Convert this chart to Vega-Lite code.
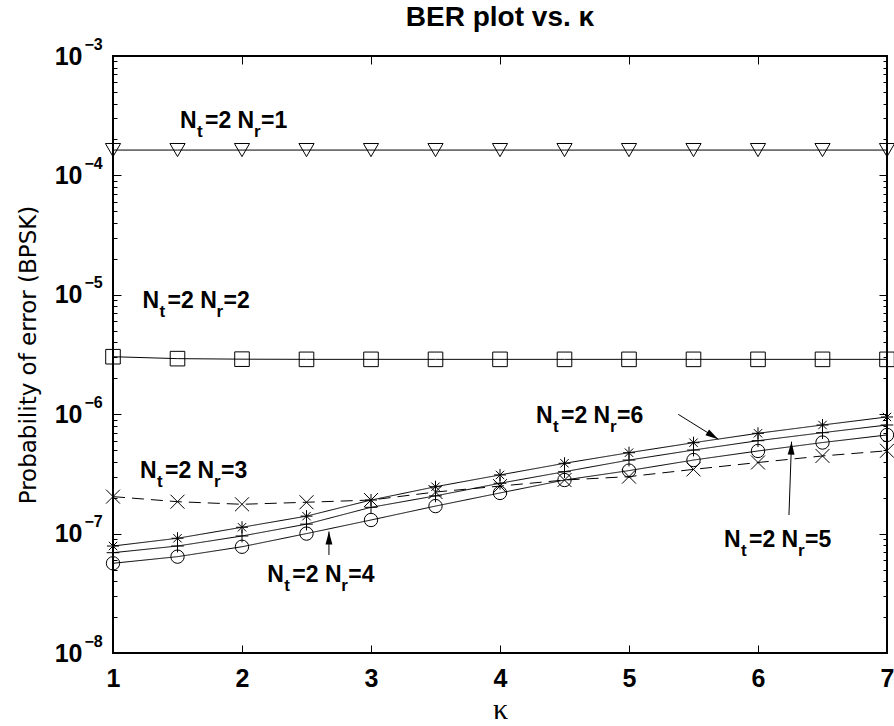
{
  "$schema": "https://vega.github.io/schema/vega-lite/v6.json",
  "width": 774,
  "height": 597,
  "autosize": {"type": "none"},
  "padding": {"left": 113, "top": 56, "right": 7, "bottom": 73},
  "background": "white",
  "config": {
    "font": "Liberation Sans",
    "view": {"stroke": "black", "strokeWidth": 2},
    "axis": {"domain": false, "grid": false, "labelColor": "black", "tickColor": "black", "titleColor": "black", "labelFlush": false, "labelOverlap": false, "tickWidth": 1}
  },
  "title": {"text": "BER plot vs. κ", "font": "Liberation Sans", "fontSize": 28, "fontWeight": "bold", "color": "black", "anchor": "middle", "offset": 4},
  "datasets": {
    "ber": [
      {"nr": "1", "k": 1, "ber": 1.63e-4}, {"nr": "1", "k": 1.5, "ber": 1.63e-4}, {"nr": "1", "k": 2, "ber": 1.63e-4}, {"nr": "1", "k": 2.5, "ber": 1.63e-4}, {"nr": "1", "k": 3, "ber": 1.63e-4}, {"nr": "1", "k": 3.5, "ber": 1.63e-4}, {"nr": "1", "k": 4, "ber": 1.63e-4}, {"nr": "1", "k": 4.5, "ber": 1.63e-4}, {"nr": "1", "k": 5, "ber": 1.63e-4}, {"nr": "1", "k": 5.5, "ber": 1.63e-4}, {"nr": "1", "k": 6, "ber": 1.63e-4}, {"nr": "1", "k": 6.5, "ber": 1.63e-4}, {"nr": "1", "k": 7, "ber": 1.63e-4},
      {"nr": "2", "k": 1, "ber": 3.03e-6}, {"nr": "2", "k": 1.5, "ber": 2.92e-6}, {"nr": "2", "k": 2, "ber": 2.89e-6}, {"nr": "2", "k": 2.5, "ber": 2.88e-6}, {"nr": "2", "k": 3, "ber": 2.88e-6}, {"nr": "2", "k": 3.5, "ber": 2.88e-6}, {"nr": "2", "k": 4, "ber": 2.88e-6}, {"nr": "2", "k": 4.5, "ber": 2.88e-6}, {"nr": "2", "k": 5, "ber": 2.88e-6}, {"nr": "2", "k": 5.5, "ber": 2.88e-6}, {"nr": "2", "k": 6, "ber": 2.88e-6}, {"nr": "2", "k": 6.5, "ber": 2.88e-6}, {"nr": "2", "k": 7, "ber": 2.88e-6},
      {"nr": "3", "k": 1, "ber": 2.04e-7}, {"nr": "3", "k": 1.5, "ber": 1.85e-7}, {"nr": "3", "k": 2, "ber": 1.76e-7}, {"nr": "3", "k": 2.5, "ber": 1.83e-7}, {"nr": "3", "k": 3, "ber": 1.91e-7}, {"nr": "3", "k": 3.5, "ber": 2.23e-7}, {"nr": "3", "k": 4, "ber": 2.50e-7}, {"nr": "3", "k": 4.5, "ber": 2.81e-7}, {"nr": "3", "k": 5, "ber": 3.00e-7}, {"nr": "3", "k": 5.5, "ber": 3.45e-7}, {"nr": "3", "k": 6, "ber": 3.94e-7}, {"nr": "3", "k": 6.5, "ber": 4.47e-7}, {"nr": "3", "k": 7, "ber": 4.94e-7},
      {"nr": "4", "k": 1, "ber": 5.64e-8}, {"nr": "4", "k": 1.5, "ber": 6.41e-8}, {"nr": "4", "k": 2, "ber": 7.76e-8}, {"nr": "4", "k": 2.5, "ber": 1.00e-7}, {"nr": "4", "k": 3, "ber": 1.30e-7}, {"nr": "4", "k": 3.5, "ber": 1.70e-7}, {"nr": "4", "k": 4, "ber": 2.19e-7}, {"nr": "4", "k": 4.5, "ber": 2.81e-7}, {"nr": "4", "k": 5, "ber": 3.37e-7}, {"nr": "4", "k": 5.5, "ber": 4.13e-7}, {"nr": "4", "k": 6, "ber": 4.92e-7}, {"nr": "4", "k": 6.5, "ber": 5.79e-7}, {"nr": "4", "k": 7, "ber": 6.70e-7},
      {"nr": "5", "k": 1, "ber": 6.92e-8}, {"nr": "5", "k": 1.5, "ber": 7.87e-8}, {"nr": "5", "k": 2, "ber": 9.55e-8}, {"nr": "5", "k": 2.5, "ber": 1.20e-7}, {"nr": "5", "k": 3, "ber": 1.66e-7}, {"nr": "5", "k": 3.5, "ber": 2.07e-7}, {"nr": "5", "k": 4, "ber": 2.64e-7}, {"nr": "5", "k": 4.5, "ber": 3.30e-7}, {"nr": "5", "k": 5, "ber": 4.13e-7}, {"nr": "5", "k": 5.5, "ber": 5.01e-7}, {"nr": "5", "k": 6, "ber": 6.00e-7}, {"nr": "5", "k": 6.5, "ber": 7.00e-7}, {"nr": "5", "k": 7, "ber": 8.12e-7},
      {"nr": "6", "k": 1, "ber": 7.87e-8}, {"nr": "6", "k": 1.5, "ber": 9.14e-8}, {"nr": "6", "k": 2, "ber": 1.13e-7}, {"nr": "6", "k": 2.5, "ber": 1.40e-7}, {"nr": "6", "k": 3, "ber": 1.91e-7}, {"nr": "6", "k": 3.5, "ber": 2.47e-7}, {"nr": "6", "k": 4, "ber": 3.10e-7}, {"nr": "6", "k": 4.5, "ber": 3.88e-7}, {"nr": "6", "k": 5, "ber": 4.76e-7}, {"nr": "6", "k": 5.5, "ber": 5.77e-7}, {"nr": "6", "k": 6, "ber": 6.92e-7}, {"nr": "6", "k": 6.5, "ber": 8.12e-7}, {"nr": "6", "k": 7, "ber": 9.48e-7}
    ],
    "labels": [
      {"nr": "1", "k": 1.519, "ber": 2.49e-4, "tail": "=1"},
      {"nr": "2", "k": 1.229, "ber": 7.74e-6, "tail": "=2"},
      {"nr": "3", "k": 1.209, "ber": 2.92e-7, "tail": "=3"},
      {"nr": "4", "k": 2.196, "ber": 3.95e-8, "tail": "=4"},
      {"nr": "5", "k": 5.736, "ber": 7.76e-8, "tail": "=5"},
      {"nr": "6", "k": 4.279, "ber": 8.39e-7, "tail": "=6"}
    ],
    "arrows": [
      {"id": "4", "k": 2.674, "ber": 6.62e-8, "k2": 2.674, "ber2": 1.04e-7},
      {"id": "5", "k": 6.24, "ber": 1.43e-7, "k2": 6.26, "ber2": 5.89e-7},
      {"id": "6", "k": 5.382, "ber": 9.97e-7, "k2": 5.692, "ber2": 6.17e-7}
    ]
  },
  "layer": [
    {
      "encoding": {
        "x": {"field": "k", "type": "quantitative", "scale": {"domain": [1, 7], "nice": false, "zero": false},
          "axis": {"orient": "bottom", "values": [1, 2, 3, 4, 5, 6, 7], "tickSize": -8, "labelPadding": 21, "labelFontSize": 25, "labelFontWeight": "bold", "labelFont": "Liberation Sans",
            "title": "κ", "titleFont": "Liberation Serif", "titleFontSize": 30, "titleFontWeight": "normal", "titlePadding": 3}},
        "y": {"field": "ber", "type": "quantitative", "scale": {"type": "log", "domain": [1e-8, 1e-3], "nice": false},
          "axis": {"orient": "left",
            "values": [1e-8, 2e-8, 3e-8, 4e-8, 5e-8, 6e-8, 7e-8, 8e-8, 9e-8, 1e-7, 2e-7, 3e-7, 4e-7, 5e-7, 6e-7, 7e-7, 8e-7, 9e-7, 1e-6, 2e-6, 3e-6, 4e-6, 5e-6, 6e-6, 7e-6, 8e-6, 9e-6, 1e-5, 2e-5, 3e-5, 4e-5, 5e-5, 6e-5, 7e-5, 8e-5, 9e-5, 1e-4, 2e-4, 3e-4, 4e-4, 5e-4, 6e-4, 7e-4, 8e-4, 9e-4, 1e-3],
            "labelExpr": "abs(log(datum.value)/LN10 - round(log(datum.value)/LN10)) < 0.001 ? '10' : ''",
            "tickSize": {"condition": {"test": "abs(log(datum.value)/LN10 - round(log(datum.value)/LN10)) < 0.001", "value": -8}, "value": -4},
            "labelPadding": 39, "labelFontSize": 25, "labelFontWeight": "bold", "labelFont": "Liberation Sans", "labelBaseline": "middle",
            "title": "Probability of error (BPSK)", "titleFont": "DejaVu Sans", "titleFontSize": 23, "titleFontWeight": "normal", "titlePadding": 14}}
      },
      "layer": [
        {"data": {"name": "ber"}, "mark": {"type": "line", "color": "black", "strokeWidth": 1},
          "encoding": {"detail": {"field": "nr"},
            "strokeDash": {"field": "nr", "type": "nominal", "scale": {"domain": ["1", "2", "3", "4", "5", "6"], "range": [[1, 0], [1, 0], [12, 7], [1, 0], [1, 0], [1, 0]]}, "legend": null}}},
        {"data": {"name": "ber"}, "mark": {"type": "point", "filled": false, "stroke": "black", "strokeWidth": 1, "opacity": 1},
          "encoding": {
            "shape": {"field": "nr", "type": "nominal", "scale": {"domain": ["1", "2", "3", "4", "5", "6"], "range": ["triangle-down", "square", "M-1,-1L1,1M-1,1L1,-1", "circle", "M-1,0L1,0M0,-1L0,1", "M-1,0L1,0M0,-1L0,1M-0.7,-0.7L0.7,0.7M-0.7,0.7L0.7,-0.7"]}, "legend": null},
            "size": {"field": "nr", "type": "ordinal", "scale": {"domain": ["1", "2", "3", "4", "5", "6"], "range": [230, 144, 110, 225, 150, 150]}, "legend": null}}},
        {"data": {"name": "labels"}, "mark": {"type": "text", "text": "N", "align": "left", "baseline": "alphabetic", "fontSize": 23, "fontWeight": "bold", "color": "black"}},
        {"data": {"name": "labels"}, "mark": {"type": "text", "text": "t", "dx": 17, "dy": 9, "align": "left", "baseline": "alphabetic", "fontSize": 17, "fontWeight": "bold", "color": "black"}},
        {"data": {"name": "labels"}, "mark": {"type": "text", "text": "=2 N", "dx": 25, "align": "left", "baseline": "alphabetic", "fontSize": 23, "fontWeight": "bold", "color": "black"}},
        {"data": {"name": "labels"}, "mark": {"type": "text", "text": "r", "dx": 74, "dy": 9, "align": "left", "baseline": "alphabetic", "fontSize": 17, "fontWeight": "bold", "color": "black"}},
        {"data": {"name": "labels"}, "mark": {"type": "text", "dx": 81, "align": "left", "baseline": "alphabetic", "fontSize": 23, "fontWeight": "bold", "color": "black"},
          "encoding": {"text": {"field": "tail"}}},
        {"data": {"name": "arrows"}, "mark": {"type": "rule", "color": "black", "strokeWidth": 1},
          "encoding": {"x2": {"field": "k2"}, "y2": {"field": "ber2"}}},
        {"data": {"name": "arrows"}, "transform": [{"filter": "datum.id == '4'"}],
          "mark": {"type": "point", "shape": "M0,0L0.45,1.7L-0.45,1.7Z", "filled": true, "color": "black", "size": 233, "angle": 0, "opacity": 1},
          "encoding": {"x": {"field": "k2", "type": "quantitative"}, "y": {"field": "ber2", "type": "quantitative"}}},
        {"data": {"name": "arrows"}, "transform": [{"filter": "datum.id == '5'"}],
          "mark": {"type": "point", "shape": "M0,0L0.45,1.7L-0.45,1.7Z", "filled": true, "color": "black", "size": 233, "angle": 2, "opacity": 1},
          "encoding": {"x": {"field": "k2", "type": "quantitative"}, "y": {"field": "ber2", "type": "quantitative"}}},
        {"data": {"name": "arrows"}, "transform": [{"filter": "datum.id == '6'"}],
          "mark": {"type": "point", "shape": "M0,0L0.45,1.7L-0.45,1.7Z", "filled": true, "color": "black", "size": 233, "angle": 122, "opacity": 1},
          "encoding": {"x": {"field": "k2", "type": "quantitative"}, "y": {"field": "ber2", "type": "quantitative"}}}
      ]
    },
    {
      "data": {"name": "ber"},
      "mark": {"type": "point", "opacity": 0},
      "encoding": {
        "x": {"field": "k", "type": "quantitative", "scale": {"domain": [1, 7], "nice": false, "zero": false},
          "axis": {"orient": "top", "values": [1, 2, 3, 4, 5, 6, 7], "tickSize": -8, "labels": false, "title": null}},
        "y": {"field": "ber", "type": "quantitative", "scale": {"type": "log", "domain": [1e-8, 1e-3], "nice": false},
          "axis": {"orient": "left", "values": [1e-8, 1e-7, 1e-6, 1e-5, 1e-4, 1e-3], "ticks": false,
            "labelExpr": "'−' + format(-round(log(datum.value)/LN10), 'd')",
            "labelAlign": "left", "labelBaseline": "middle", "labelPadding": 29, "labelOffset": -12, "labelFontSize": 16, "labelFontWeight": "bold", "labelFont": "Liberation Sans", "title": null}}
      }
    },
    {
      "data": {"name": "ber"},
      "mark": {"type": "point", "opacity": 0},
      "encoding": {
        "x": {"field": "k", "type": "quantitative", "scale": {"domain": [1, 7], "nice": false, "zero": false}, "axis": null},
        "y": {"field": "ber", "type": "quantitative", "scale": {"type": "log", "domain": [1e-8, 1e-3], "nice": false},
          "axis": {"orient": "right",
            "values": [1e-8, 2e-8, 3e-8, 4e-8, 5e-8, 6e-8, 7e-8, 8e-8, 9e-8, 1e-7, 2e-7, 3e-7, 4e-7, 5e-7, 6e-7, 7e-7, 8e-7, 9e-7, 1e-6, 2e-6, 3e-6, 4e-6, 5e-6, 6e-6, 7e-6, 8e-6, 9e-6, 1e-5, 2e-5, 3e-5, 4e-5, 5e-5, 6e-5, 7e-5, 8e-5, 9e-5, 1e-4, 2e-4, 3e-4, 4e-4, 5e-4, 6e-4, 7e-4, 8e-4, 9e-4, 1e-3],
            "tickSize": {"condition": {"test": "abs(log(datum.value)/LN10 - round(log(datum.value)/LN10)) < 0.001", "value": -8}, "value": -4},
            "labels": false, "title": null}}
      }
    }
  ],
  "resolve": {"scale": {"x": "independent", "y": "independent"}, "axis": {"x": "independent", "y": "independent"}}
}
